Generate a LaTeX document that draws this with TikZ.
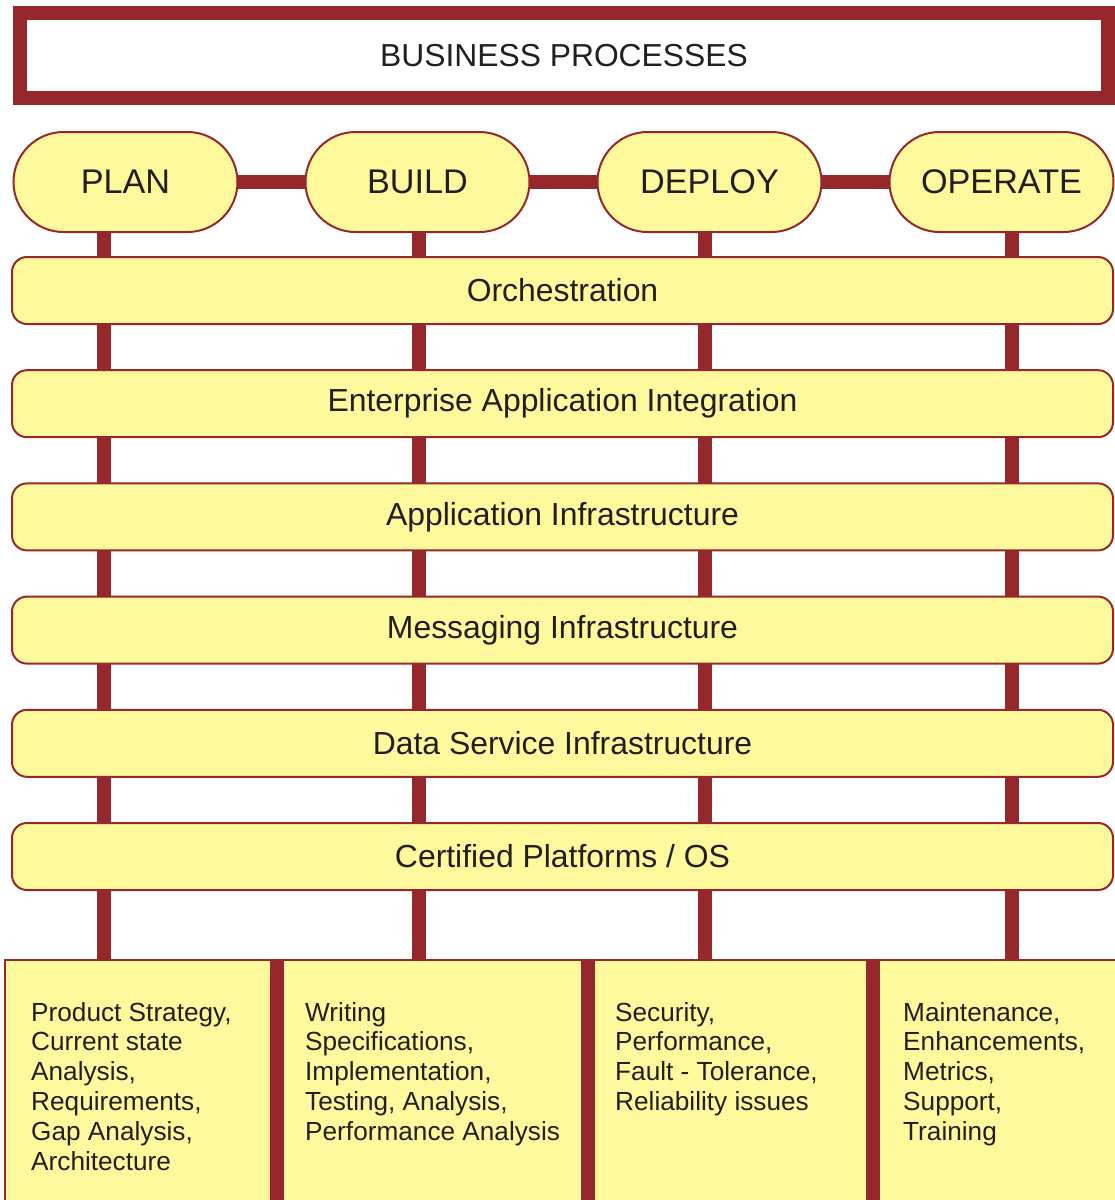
\documentclass[tikz,border=0pt]{standalone}
\usepackage{fontspec}
\setmainfont{Liberation Sans}
\usetikzlibrary{positioning,backgrounds}
\definecolor{barred}{RGB}{150,40,43}
\definecolor{boxyellow}{RGB}{255,249,157}
\definecolor{inkblack}{RGB}{35,31,32}
\tikzset{
  titlebox/.style={rectangle, draw=barred, line width=14pt, fill=white, minimum width=1088pt, minimum height=85pt, inner sep=0pt, outer sep=0pt, font=\fontsize{31.8}{36}\selectfont, text=inkblack},
  phase/.style={rectangle, rounded corners=50pt, draw=barred, line width=2pt, fill=boxyellow, minimum width=224pt, minimum height=100pt, outer sep=0pt, font=\fontsize{34.2}{38}\selectfont, text=inkblack},
  layer/.style={rectangle, rounded corners=15pt, draw=barred, line width=2pt, fill=boxyellow, minimum width=1101pt, minimum height=67pt, outer sep=0pt, font=\fontsize{31.9}{36}\selectfont, text=inkblack},
  column/.style={rectangle, draw=barred, line width=1.5pt, fill=boxyellow, minimum height=300pt, anchor=north west, outer sep=0pt},
  coltext/.style={anchor=north west, align=left, inner sep=0pt, font=\fontsize{26.2}{29.8}\selectfont, text=inkblack},
  bar/.style={draw=barred, line width=14pt}
}
\begin{document}
\begin{tikzpicture}[x=1pt, y=-1pt]
  \useasboundingbox (0,0) rectangle (1115,1200);
  \node[titlebox] (business) at (564,55.5) {BUSINESS PROCESSES};
  % phases
  \node[phase] (plan) at (125.5,182) {PLAN};
  \node[phase, right=68pt of plan] (build) {BUILD};
  \node[phase, right=68pt of build] (deploy) {DEPLOY};
  \node[phase, right=68pt of deploy] (operate) {OPERATE};
  % layers
  \node[layer] (orch) at (562.5,290.5) {Orchestration};
  \node[layer, below=46.2pt of orch] (eai) {Enterprise Application Integration};
  \node[layer, below=46.2pt of eai] (appinfra) {Application Infrastructure};
  \node[layer, below=46.2pt of appinfra] (msginfra) {Messaging Infrastructure};
  \node[layer, below=46.2pt of msginfra] (datainfra) {Data Service Infrastructure};
  \node[layer, below=46.2pt of datainfra] (platforms) {Certified Platforms / OS};
  % columns
  \node[column, minimum width=272pt] (plancol) at (5,960) {};
  \node[column, minimum width=311pt] (buildcol) at (277,960) {};
  \node[column, minimum width=285pt] (deploycol) at (588,960) {};
  \node[column, minimum width=260pt] (operatecol) at (873,960) {};
  \node[coltext] (plantext) at ([xshift=26pt, yshift=-42pt]plancol.north west)
    {Product Strategy,\\Current state\\Analysis,\\Requirements,\\Gap Analysis,\\Architecture};
  \node[coltext] (buildtext) at ([xshift=28pt, yshift=-42pt]buildcol.north west)
    {Writing\\Specifications,\\Implementation,\\Testing, Analysis,\\Performance Analysis};
  \node[coltext] (deploytext) at ([xshift=27pt, yshift=-42pt]deploycol.north west)
    {Security,\\Performance,\\Fault - Tolerance,\\Reliability issues};
  \node[coltext] (operatetext) at ([xshift=30pt, yshift=-42pt]operatecol.north west)
    {Maintenance,\\Enhancements,\\Metrics,\\Support,\\Training};
  \draw[bar] (plancol.north east) -- (plancol.south east);
  \draw[bar] (buildcol.north east) -- (buildcol.south east);
  \draw[bar] (deploycol.north east) -- (deploycol.south east);
  % bars behind the boxes
  \begin{scope}[on background layer]
    \draw[bar] (plan) -- (build);
    \draw[bar] (build) -- (deploy);
    \draw[bar] (deploy) -- (operate);
    \coordinate (xplan) at (104,0);
    \coordinate (xbuild) at (418.5,0);
    \coordinate (xdeploy) at (705,0);
    \coordinate (xoperate) at (1012,0);
    \draw[bar] (plan.south -| xplan) -- ([yshift=-3pt]xplan |- plancol.north);
    \draw[bar] (build.south -| xbuild) -- ([yshift=-3pt]xbuild |- buildcol.north);
    \draw[bar] (deploy.south -| xdeploy) -- ([yshift=-3pt]xdeploy |- deploycol.north);
    \draw[bar] (operate.south -| xoperate) -- ([yshift=-3pt]xoperate |- operatecol.north);
  \end{scope}
\end{tikzpicture}
\end{document}
